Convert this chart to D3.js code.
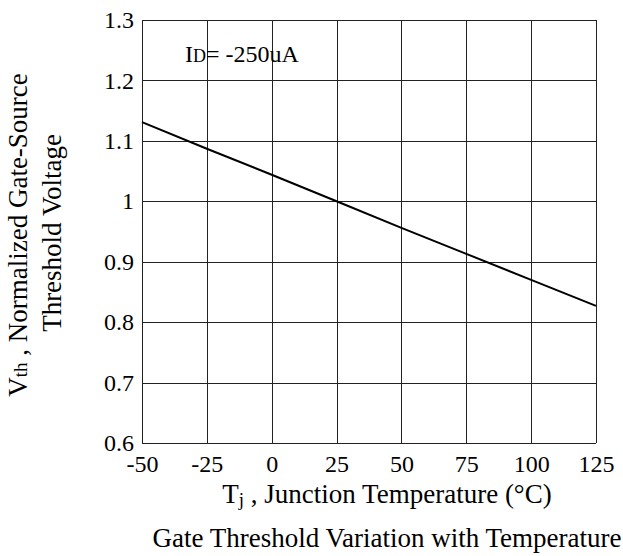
<!DOCTYPE html>
<html>
<head>
<meta charset="utf-8">
<script src="https://cdn.jsdelivr.net/npm/d3@7"></script>
<style>
  body { margin: 0; background: #fff; }
  text { font-family: "Liberation Serif", "Times New Roman", serif; fill: #000; }
</style>
</head>
<body>
<div id="chart"></div>
<script>
/*
Data
*/
var temps = [-50, -25, 0, 25, 50, 75, 100, 125];
var vth = [1.131, 1.087, 1.044, 1.0, 0.956, 0.913, 0.870, 0.827];
var xTicks = [-50, -25, 0, 25, 50, 75, 100, 125];
var yTicks = [0.6, 0.7, 0.8, 0.9, 1.0, 1.1, 1.2, 1.3];

/*
Sizes
*/
var W = 623, H = 556;
var margin = { top: 20, right: 27, bottom: 113, left: 142 },
	width = W - margin.left - margin.right,
	height = H - margin.top - margin.bottom;

var svg = d3.select("#chart").append("svg")
	.attr("width", W)
	.attr("height", H);

var g = svg.append("g")
	.attr("transform", "translate(" + margin.left + "," + margin.top + ")");

// Scales
var xScale = d3.scaleLinear().domain([-50, 125]).range([0, width]);
var yScale = d3.scaleLinear().domain([0.6, 1.3]).range([height, 0]);

// Grid
var grid = g.append("g").attr("shape-rendering", "crispEdges");
grid.selectAll(".vg").data(xTicks).enter().append("line")
	.attr("x1", function(d) { return Math.round(xScale(d)) + 0.5; })
	.attr("x2", function(d) { return Math.round(xScale(d)) + 0.5; })
	.attr("y1", 0).attr("y2", height)
	.attr("stroke", "#222").attr("stroke-width", 1);
grid.selectAll(".hg").data(yTicks).enter().append("line")
	.attr("y1", function(d) { return Math.round(yScale(d)) + 0.5; })
	.attr("y2", function(d) { return Math.round(yScale(d)) + 0.5; })
	.attr("x1", 0).attr("x2", width)
	.attr("stroke", "#222").attr("stroke-width", 1);

// x tick labels (plain hyphen for negatives, like the original)
var xAxis = d3.axisBottom(xScale).tickValues(xTicks).tickSize(0).tickPadding(12)
	.tickFormat(function(d) { return String(d); });
var gx = g.append("g").attr("transform", "translate(0," + height + ")").call(xAxis);
gx.select(".domain").remove();
gx.selectAll("text").attr("font-size", 24).attr("font-family", "Liberation Serif");

// y tick labels
var yAxis = d3.axisLeft(yScale).tickValues(yTicks).tickSize(0).tickPadding(8)
	.tickFormat(function(d) { return d === 1 ? "1" : d3.format(".1f")(d); });
var gy = g.append("g").call(yAxis);
gy.select(".domain").remove();
gy.selectAll("text").attr("font-size", 24).attr("font-family", "Liberation Serif");

// Curve
var line = d3.line()
	.x(function(d, i) { return xScale(temps[i]); })
	.y(function(d) { return yScale(d); });
g.append("path")
	.datum(vth)
	.attr("d", line)
	.attr("fill", "none")
	.attr("stroke", "#000")
	.attr("stroke-width", 2);

// Annotation
var ann = g.append("text")
	.attr("x", xScale(-50) + 43)
	.attr("y", 42)
	.attr("font-size", 24);
ann.append("tspan").text("I");
ann.append("tspan").attr("font-size", 18).text("D");
ann.append("tspan").text("= -250uA");

// x-axis title
var xt = svg.append("text")
	.attr("x", 387)
	.attr("y", 503)
	.attr("text-anchor", "middle")
	.attr("font-size", 27);
xt.append("tspan").text("T");
xt.append("tspan").attr("font-size", 19).attr("dy", 3).text("j");
xt.append("tspan").attr("dy", -3).text(" , Junction Temperature (°C)");

// y-axis title
var yt = svg.append("text")
	.attr("transform", "translate(27,235) rotate(-90)")
	.attr("text-anchor", "middle")
	.attr("font-size", 27);
yt.append("tspan").text("V");
yt.append("tspan").attr("font-size", 19).text("th");
yt.append("tspan").text(" , Normalized Gate-Source");

svg.append("text")
	.attr("transform", "translate(61,233) rotate(-90)")
	.attr("text-anchor", "middle")
	.attr("font-size", 27)
	.text("Threshold Voltage");

// Caption
svg.append("text")
	.attr("x", 387)
	.attr("y", 547)
	.attr("text-anchor", "middle")
	.attr("font-size", 27)
	.text("Gate Threshold Variation with Temperature");
</script>
</body>
</html>
